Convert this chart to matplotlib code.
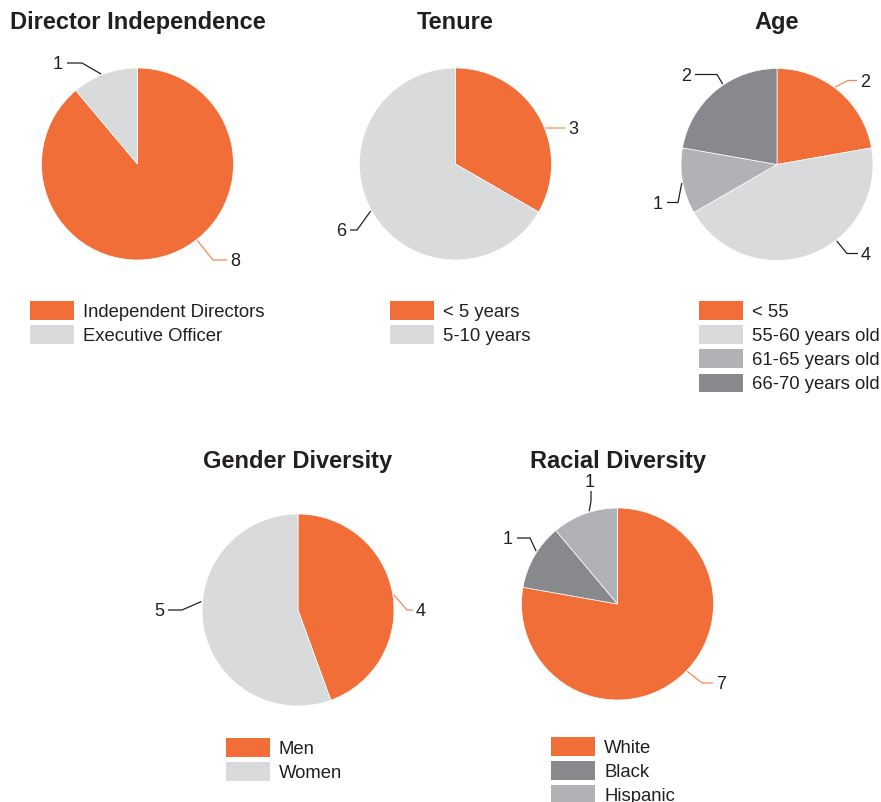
import numpy as np
import matplotlib
matplotlib.use("Agg")
import matplotlib.pyplot as plt
from matplotlib.patches import Rectangle

# ---------------- data ----------------
independence_labels = ["Independent Directors", "Executive Officer"]
independence_values = [8, 1]

tenure_labels = ["< 5 years", "5-10 years"]
tenure_values = [3, 6]

age_labels = ["< 55", "55-60 years old", "61-65 years old", "66-70 years old"]
age_values = [2, 4, 1, 2]

gender_labels = ["Men", "Women"]
gender_values = [4, 5]

race_labels = ["White", "Black", "Hispanic"]
race_values = [7, 1, 1]

# ---------------- style ----------------
ORANGE = "#F26E38"
LIGHT = "#D9DADC"
MID = "#B1B2B5"
DARK = "#88898D"
TEXT = "#231F20"
ORANGE_LINE = "#F4895A"

W, H = 881, 802
R = 96
FONT = "Liberation Sans"

fig = plt.figure(figsize=(W / 100, H / 100), dpi=100)
ax = fig.add_axes([0, 0, 1, 1])


def Y(y):
    return H - y


# each pie: title, labels, values, colours, centre (px), legend box x, legend top y,
# label leaders: (anchor angle clockwise from top, elbow offset, end offset, side)
pies = [
    dict(title="Director Independence", labels=independence_labels, values=independence_values,
         colors=[ORANGE, LIGHT], center=(137.5, 164), title_y=29,
         leg_x=30, leg_y=301,
         leaders=[(142, (75.5, 96), (89.5, 96), "r"), (338, (-55.5, -101), (-70.5, -101), "l")]),
    dict(title="Tenure", labels=tenure_labels, values=tenure_values,
         colors=[ORANGE, LIGHT], center=(455.5, 164), title_y=29,
         leg_x=390, leg_y=301,
         leaders=[(68, (90, -36), (109.5, -36), "r"), (241, (-98.5, 66), (-105.5, 66), "l")]),
    dict(title="Age", labels=age_labels, values=age_values,
         colors=[ORANGE, LIGHT, MID, DARK], center=(777, 164.5), title_y=29,
         leg_x=699, leg_y=301,
         leaders=[(37, (71, -84), (80, -84), "r"), (142, (70, 89), (81, 89), "r"),
                  (259, (-99, 38), (-110, 38), "l"), (326, (-60, -90), (-82, -90), "l")]),
    dict(title="Gender Diversity", labels=gender_labels, values=gender_values,
         colors=[ORANGE, LIGHT], center=(298, 610), title_y=468,
         leg_x=226, leg_y=738,
         leaders=[(81, (109, 0), (115, 0), "r"), (275, (-116, 0), (-130, 0), "l")]),
    dict(title="Racial Diversity", labels=race_labels, values=race_values,
         colors=[ORANGE, DARK, MID], center=(617.5, 604), title_y=468,
         leg_x=551, leg_y=737,
         leaders=[(134, (84.5, 79), (95.5, 79), "r"), (303, (-87.5, -66), (-100.5, -66), "l"),
                  (343, (-26.5, -103), (-26.5, -103), "u")]),
]

for p in pies:
    cx, cy = p["center"]
    ax.pie(p["values"], colors=p["colors"], startangle=90, counterclock=False,
           center=(cx, Y(cy)), radius=R,
           wedgeprops=dict(edgecolor="white", linewidth=0.5))
    ax.text(cx, Y(p["title_y"]), p["title"], ha="center", va="baseline",
            fontsize=17, fontweight="bold", color=TEXT, family=FONT)

    # leader lines and value labels
    for (ang, elbow, end, side), val, col in zip(p["leaders"], p["values"], p["colors"]):
        t = np.deg2rad(ang)
        ax_x = cx + (R + 1) * np.sin(t)
        ax_y = cy - (R + 1) * np.cos(t)
        ex, ey = cx + elbow[0], cy + elbow[1]
        nx, ny = cx + end[0], cy + end[1]
        lc = ORANGE_LINE if col == ORANGE else TEXT
        if side == "u":
            nx, ny = ex, ey - 10
        ax.plot([ax_x, ex, nx], [Y(ax_y), Y(ey), Y(ny)], color=lc, lw=0.9,
                solid_capstyle="butt", solid_joinstyle="miter")
        if side == "r":
            ax.text(nx + 3, Y(ny + 6.3), str(val), ha="left", va="baseline",
                    fontsize=13, color=TEXT, family=FONT)
        elif side == "l":
            ax.text(nx - 4, Y(ny + 6.3), str(val), ha="right", va="baseline",
                    fontsize=13, color=TEXT, family=FONT)
        else:
            ax.text(nx - 1, Y(ny - 4), str(val), ha="center", va="baseline",
                    fontsize=13, color=TEXT, family=FONT)

    # legend
    for i, (lab, col) in enumerate(zip(p["labels"], p["colors"])):
        top = p["leg_y"] + i * 24.2
        ax.add_patch(Rectangle((p["leg_x"], Y(top + 18.5)), 44, 18.5,
                               facecolor=col, edgecolor="none"))
        ax.text(p["leg_x"] + 53, Y(top + 9.25 + 6.5), lab, ha="left", va="baseline",
                fontsize=13.3, color=TEXT, family=FONT)

ax.set_xlim(0, W)
ax.set_ylim(0, H)
ax.set_aspect("equal")
ax.set_axis_off()

fig.savefig("out.png", dpi=100, facecolor="white")
